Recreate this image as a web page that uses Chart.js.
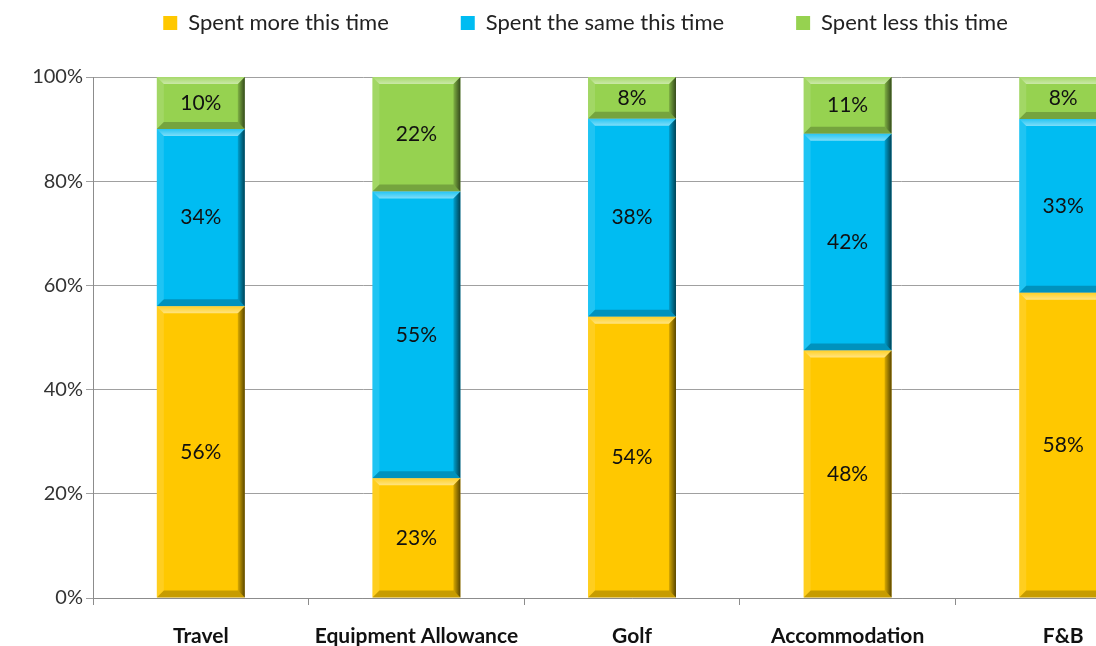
<!DOCTYPE html>
<html>
<head>
    <title>Spend comparison</title>
    <script src="https://cdn.jsdelivr.net/npm/chart.js"></script>
    <style>
        * {
            margin: 0;
            padding: 0;
            box-sizing: border-box;
        }

        html,
        body {
            width: 1096px;
            height: 646px;
            overflow: hidden;
            background-color: #ffffff;
        }

        .chart-container {
            position: relative;
            width: 1188px;
            height: 660px;
        }
    </style>
</head>
<body>
    <div class="chart-container">
        <canvas id="spendChart"></canvas>
    </div>

    <script>
        const categories = ['Travel', 'Equipment Allowance', 'Golf', 'Accommodation', 'F&B'];
        const spentMore = [56, 23, 54, 48, 58];
        const spentSame = [34, 55, 38, 42, 33];
        const spentLess = [10, 22, 8, 11, 8];
        const seriesNames = ['Spent more this time', 'Spent the same this time', 'Spent less this time'];

        const FONT = 'Lato, "Open Sans", sans-serif';

        // 100% stacked: each column scaled to its own total
        function toShare(values, i) {
            const total = spentMore[i] + spentSame[i] + spentLess[i];
            return values[i] / total * 100;
        }
        const shareOf = arr => arr.map((v, i) => toShare(arr, i));

        // bevel look of the bars + value labels
        const bevelPlugin = {
            id: 'bevel',
            afterDatasetsDraw(chart) {
                const ctx = chart.ctx;
                const b = 7;
                ctx.save();
                chart.data.datasets.forEach((ds, di) => {
                    const meta = chart.getDatasetMeta(di);
                    meta.data.forEach((bar, i) => {
                        const p = bar.getProps(['x', 'y', 'base', 'width'], true);
                        const L = p.x - p.width / 2, R = p.x + p.width / 2;
                        const T = Math.min(p.y, p.base), B = Math.max(p.y, p.base);
                        const poly = (pts, fill) => {
                            ctx.beginPath();
                            ctx.moveTo(pts[0][0], pts[0][1]);
                            for (let k = 1; k < pts.length; k++) ctx.lineTo(pts[k][0], pts[k][1]);
                            ctx.closePath();
                            ctx.fillStyle = fill;
                            ctx.fill();
                        };
                        const gt = ctx.createLinearGradient(0, T, 0, T + b);
                        gt.addColorStop(0, 'rgba(255,255,255,0.15)');
                        gt.addColorStop(1, 'rgba(255,255,255,0.5)');
                        poly([[L, T], [R, T], [R - b, T + b], [L + b, T + b]], gt);
                        poly([[L, T], [L + b, T + b], [L + b, B - b], [L, B]], 'rgba(255,255,255,0.12)');
                        poly([[L, B], [L + b, B - b], [R - b, B - b], [R, B]], 'rgba(0,0,0,0.22)');
                        const g = ctx.createLinearGradient(R - b, 0, R, 0);
                        g.addColorStop(0, 'rgba(0,0,0,0.15)');
                        g.addColorStop(1, 'rgba(0,0,0,0.65)');
                        poly([[R, T], [R, B], [R - b, B - b], [R - b, T + b]], g);
                    });
                });
                ctx.fillStyle = '#111111';
                ctx.font = '21px ' + FONT;
                ctx.textAlign = 'center';
                ctx.textBaseline = 'middle';
                const raw = [spentMore, spentSame, spentLess];
                chart.data.datasets.forEach((ds, di) => {
                    const meta = chart.getDatasetMeta(di);
                    meta.data.forEach((bar, i) => {
                        const p = bar.getProps(['x', 'y', 'base'], true);
                        ctx.fillText(raw[di][i] + '%', p.x, (p.y + p.base) / 2);
                    });
                });
                ctx.restore();
            }
        };

        // give the legend a fixed height so the plot starts where it should
        const legendHeight = {
            id: 'legendHeight',
            beforeInit(chart) {
                const fit = chart.legend.fit;
                chart.legend.fit = function () {
                    fit.bind(chart.legend)();
                    this.height = 137;
                };
            }
        };

        const ctx = document.getElementById('spendChart').getContext('2d');
        const spendChart = new Chart(ctx, {
            type: 'bar',
            data: {
                labels: categories,
                datasets: [
                    {
                        label: seriesNames[0],
                        data: shareOf(spentMore),
                        backgroundColor: '#FFC800'
                    },
                    {
                        label: seriesNames[1],
                        data: shareOf(spentSame),
                        backgroundColor: '#00BCF2'
                    },
                    {
                        label: seriesNames[2],
                        data: shareOf(spentLess),
                        backgroundColor: '#96D250'
                    }
                ]
            },
            options: {
                responsive: true,
                maintainAspectRatio: false,
                animation: false,
                barPercentage: 0.408,
                categoryPercentage: 1,
                layout: {
                    padding: { top: -60, left: 0, right: 17, bottom: 0 }
                },
                scales: {
                    x: {
                        stacked: true,
                        grid: {
                            display: true,
                            drawOnChartArea: false,
                            tickLength: 7,
                            color: '#8C8C8C'
                        },
                        border: { color: '#8C8C8C' },
                        ticks: {
                            padding: 19,
                            color: '#111111',
                            maxRotation: 0,
                            font: { family: FONT, size: 21, weight: 'bold' }
                        },
                        afterFit(scale) {
                            scale.height = 62;
                        }
                    },
                    y: {
                        stacked: true,
                        min: 0,
                        max: 100,
                        grid: {
                            color: '#A0A0A0',
                            tickLength: 7
                        },
                        border: { color: '#8C8C8C' },
                        ticks: {
                            stepSize: 20,
                            padding: 3,
                            color: '#333333',
                            font: { family: FONT, size: 20 },
                            callback: v => v + '%'
                        },
                        afterFit(scale) {
                            scale.width = 93;
                        }
                    }
                },
                plugins: {
                    legend: {
                        position: 'top',
                        labels: {
                            boxWidth: 14,
                            boxHeight: 14,
                            padding: 72,
                            color: '#222222',
                            font: { family: FONT, size: 22 }
                        }
                    },
                    tooltip: { enabled: false }
                }
            },
            plugins: [legendHeight, bevelPlugin]
        });
    </script>
</body>
</html>
